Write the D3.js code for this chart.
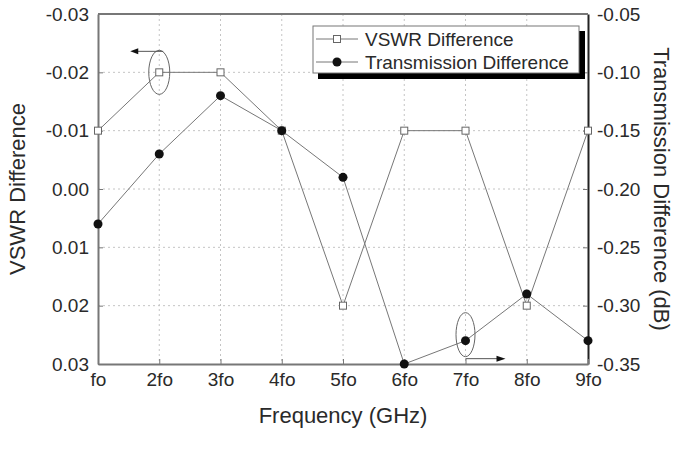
<!DOCTYPE html>
<html><head><meta charset="utf-8">
<script src="https://cdn.jsdelivr.net/npm/d3@7"></script>
<style>body{margin:0;background:#fff}svg{display:block}text{font-family:"Liberation Sans",Arial,sans-serif;fill:#2a2a2a}</style>
</head><body><svg id="c" width="682" height="450"></svg>
<script>
const categories = ["fo","2fo","3fo","4fo","5fo","6fo","7fo","8fo","9fo"];
const vswrValues = [-0.01,-0.02,-0.02,-0.01,0.02,-0.01,-0.01,0.02,-0.01];
const transValues = [-0.23,-0.17,-0.12,-0.15,-0.19,-0.35,-0.33,-0.29,-0.33];
const leftTicks = [-0.03,-0.02,-0.01,0.00,0.01,0.02,0.03];
const rightTicks = [-0.05,-0.10,-0.15,-0.20,-0.25,-0.30,-0.35];
const seriesNames = ["VSWR Difference","Transmission Difference"];

const svg = d3.select("#c");
const L=98,R=588,T=14,B=364;
const x = d3.scalePoint().domain(categories).range([L,R]);
const yL = d3.scaleLinear().domain([-0.03,0.03]).range([T,B]);
const yR = d3.scaleLinear().domain([-0.05,-0.35]).range([T,B]);

// grid
const g = svg.append("g");
categories.slice(1,-1).forEach(c=>g.append("line").attr("x1",x(c)).attr("x2",x(c)).attr("y1",T).attr("y2",B)
  .attr("stroke","#c4c4c4").attr("stroke-dasharray","2,3").attr("stroke-width",1));
leftTicks.slice(1,-1).forEach(v=>g.append("line").attr("x1",L).attr("x2",R).attr("y1",yL(v)).attr("y2",yL(v))
  .attr("stroke","#c4c4c4").attr("stroke-dasharray","2,3").attr("stroke-width",1));

// axes
const fmt = d=>d3.format(".2f")(d).replace("−","-");
const axL = svg.append("g").attr("transform",`translate(${L},0)`)
  .call(d3.axisLeft(yL).tickValues(leftTicks).tickSizeInner(-5).tickSizeOuter(0).tickPadding(9).tickFormat(fmt));
const axR = svg.append("g").attr("transform",`translate(${R},0)`)
  .call(d3.axisRight(yR).tickValues(rightTicks).tickSizeInner(-5).tickSizeOuter(0).tickPadding(9).tickFormat(fmt));
const axB = svg.append("g").attr("transform",`translate(0,${B})`)
  .call(d3.axisBottom(x).tickSizeInner(-5).tickSizeOuter(0).tickPadding(6));
[axL,axR,axB].forEach(a=>{a.selectAll("text").style("font-size","19px").attr("fill","#2a2a2a");
  a.selectAll(".tick line").attr("stroke","#777");a.select(".domain").attr("stroke","#777").attr("stroke-width",2);});
axR.select(".domain").attr("stroke","#222");
axB.selectAll("text").attr("dy","0.85em");
svg.append("line").attr("x1",L).attr("x2",R).attr("y1",T).attr("y2",T).attr("stroke","#777").attr("stroke-width",2);

// lines
const lineL = d3.line().x((d,i)=>x(categories[i])).y(d=>yL(d));
const lineR = d3.line().x((d,i)=>x(categories[i])).y(d=>yR(d));
svg.append("path").attr("d",lineL(vswrValues)).attr("fill","none").attr("stroke","#777").attr("stroke-width",1);
svg.append("path").attr("d",lineR(transValues)).attr("fill","none").attr("stroke","#777").attr("stroke-width",1);
svg.selectAll(".sq").data(vswrValues).enter().append("rect")
  .attr("x",(d,i)=>x(categories[i])-3.5).attr("y",d=>yL(d)-3.5).attr("width",7).attr("height",7)
  .attr("fill","#fff").attr("stroke","#666").attr("stroke-width",1);
svg.selectAll(".ci").data(transValues).enter().append("circle")
  .attr("cx",(d,i)=>x(categories[i])).attr("cy",d=>yR(d)).attr("r",4.5).attr("fill","#111");

// annotations
const p1x=x("2fo"), p1y=yL(-0.02);
svg.append("ellipse").attr("cx",p1x).attr("cy",p1y).attr("rx",10.5).attr("ry",22).attr("fill","none").attr("stroke","#666");
svg.append("line").attr("x1",p1x+4).attr("x2",p1x-22).attr("y1",p1y-21).attr("y2",p1y-21).attr("stroke","#555");
svg.append("path").attr("d",`M${p1x-29},${p1y-21} l8,-3 l0,6 z`).attr("fill","#111");
const p2x=x("7fo"), p2y=yR(-0.33);
svg.append("ellipse").attr("cx",p2x).attr("cy",p2y-6).attr("rx",9.5).attr("ry",22).attr("fill","none").attr("stroke","#666");
svg.append("line").attr("x1",p2x).attr("x2",p2x+32).attr("y1",p2y+18).attr("y2",p2y+18).attr("stroke","#555");
svg.append("path").attr("d",`M${p2x+40},${p2y+18} l-9,-3 l0,6 z`).attr("fill","#111");

// legend
const lg = svg.append("g");
lg.append("rect").attr("x",318).attr("y",31).attr("width",267).attr("height",48).attr("fill","#000");
lg.append("rect").attr("x",313).attr("y",26).attr("width",266).attr("height",47).attr("fill","#fff").attr("stroke","#777");
seriesNames.forEach((n,i)=>{
  const yy = 39 + i*23;
  lg.append("line").attr("x1",316).attr("x2",358).attr("y1",yy).attr("y2",yy).attr("stroke","#777");
  if(i===0) lg.append("rect").attr("x",333.5).attr("y",yy-3.5).attr("width",7).attr("height",7).attr("fill","#fff").attr("stroke","#666");
  else lg.append("circle").attr("cx",337).attr("cy",yy).attr("r",4.5).attr("fill","#111");
  lg.append("text").attr("x",365).attr("y",yy).attr("dy","0.36em").style("font-size","19px").text(n);
});

// titles
svg.append("text").attr("x",343).attr("y",423).attr("text-anchor","middle").style("font-size","22px").text("Frequency (GHz)");
svg.append("text").attr("transform",`translate(25,${(T+B)/2}) rotate(-90)`).attr("text-anchor","middle").style("font-size","22px").text("VSWR Difference");
svg.append("text").attr("transform",`translate(654,${(T+B)/2}) rotate(90)`).attr("text-anchor","middle").style("font-size","22px").text("Transmission Difference (dB)");
</script></body></html>
